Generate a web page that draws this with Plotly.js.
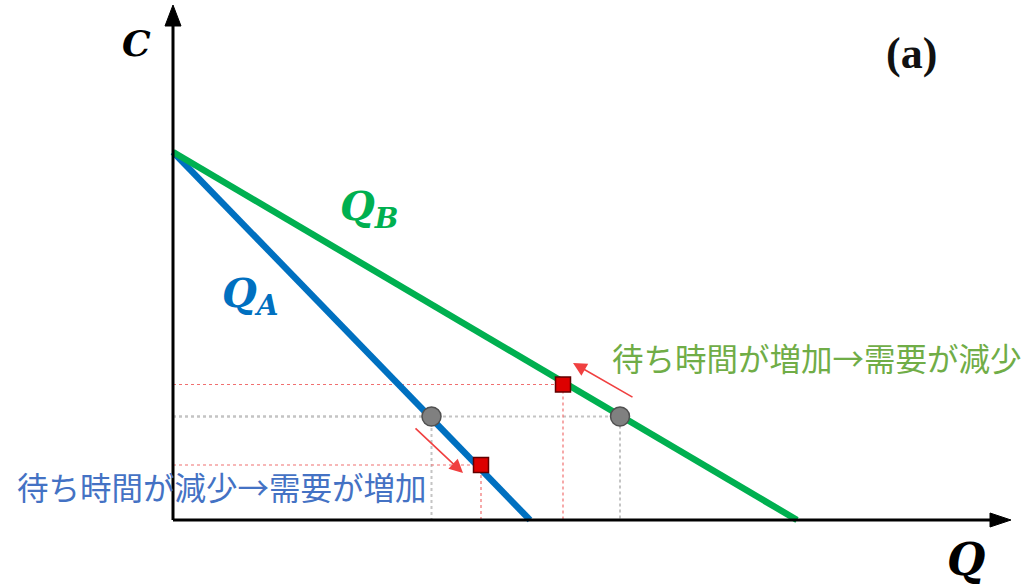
<!DOCTYPE html>
<html>
<head>
<meta charset="utf-8">
<script src="https://cdn.plot.ly/plotly-3.0.1.min.js"></script>
<style>html,body{margin:0;padding:0;background:#fff;}#chart{width:1024px;height:586px;}</style>
</head>
<body>
<div id="chart"></div>
<script>
// Demand lines (quantity Q vs cost C)
const QA_x = [0, 3.57];
const QA_y = [3.68, 0];
const QB_x = [0, 6.24];
const QB_y = [3.68, 0];
// Equilibrium points (gray circles): A then B
const eqX = [2.585, 4.47];
const eqY = [1.035, 1.035];
// Shifted points (red squares): A then B
const newX = [3.08, 3.90];
const newY = [0.55, 1.355];
// Red arrows: tail -> head, A then B
const arrTailX = [2.41, 4.61];
const arrTailY = [0.93, 1.22];
const arrHeadX = [2.90, 4.00];
const arrHeadY = [0.47, 1.57];
// Axis extents
const xMax = 8.38;
const yMax = 5.15;
// Texts
const labelA = '待ち時間が減少→需要が増加';
const labelB = '待ち時間が増加→需要が減少';

const traces = [];
function guide(xs, ys, color, width) {
  for (let i = 0; i < xs.length; i++) {
    traces.push({
      x: [0, xs[i], xs[i]], y: [ys[i], ys[i], 0],
      mode: 'lines', hoverinfo: 'skip', showlegend: false,
      line: {color: color, width: width, dash: 'dot'}
    });
  }
}
guide(eqX, eqY, '#c4c4c4', 2);
guide(newX, newY, '#f07070', 1.2);

traces.push({x: QA_x, y: QA_y, mode: 'lines', showlegend: false,
  line: {color: '#0070C0', width: 6.5}});
traces.push({x: QB_x, y: QB_y, mode: 'lines', showlegend: false,
  line: {color: '#00B050', width: 6.5}});
traces.push({x: eqX, y: eqY, mode: 'markers', showlegend: false,
  marker: {symbol: 'circle', size: 19, color: '#808080', line: {color: '#505050', width: 1.5}}});
traces.push({x: newX, y: newY, mode: 'markers', showlegend: false,
  marker: {symbol: 'square', size: 15, color: '#DD0000', line: {color: '#600000', width: 1.5}}});

const shapes = [
  {type: 'line', xref: 'x', yref: 'y', x0: 0, y0: 0, x1: xMax - 0.15, y1: 0, line: {color: '#000', width: 3}},
  {type: 'line', xref: 'x', yref: 'y', x0: 0, y0: 0, x1: 0, y1: yMax - 0.15, line: {color: '#000', width: 3}},
  {type: 'path', xref: 'x', yref: 'y', path: `M${xMax - 0.21},0.07 L${xMax},0 L${xMax - 0.21},-0.07 Z`, fillcolor: '#000', line: {color: '#000', width: 1}},
  {type: 'path', xref: 'x', yref: 'y', path: `M-0.08,${yMax - 0.21} L0,${yMax} L0.08,${yMax - 0.21} Z`, fillcolor: '#000', line: {color: '#000', width: 1}}
];

const serif = 'DejaVu Serif';
const annotations = [];
for (let i = 0; i < arrHeadX.length; i++) {
  annotations.push({x: arrHeadX[i], y: arrHeadY[i], ax: arrTailX[i], ay: arrTailY[i],
    xref: 'x', yref: 'y', axref: 'x', ayref: 'y', text: '', showarrow: true,
    arrowhead: 2, arrowsize: 1.7, arrowwidth: 1.6, arrowcolor: '#F04040'});
}
annotations.push(
  {x: -0.008, y: 0.930, xref: 'paper', yref: 'paper', xanchor: 'center', yanchor: 'middle',
   text: '<b><i>C</i></b>', showarrow: false,
   font: {family: serif, size: 36, color: '#000'}},
  {x: 0.948, y: -0.018, xref: 'paper', yref: 'paper', xanchor: 'center', yanchor: 'middle',
   text: '<b><i>Q</i></b>', showarrow: false,
   font: {family: serif, size: 44, color: '#000'}},
  {x: 7.38, y: 4.67, xref: 'x', yref: 'y', xanchor: 'center', yanchor: 'middle',
   text: '<b>(a)</b>', showarrow: false,
   font: {family: 'Liberation Serif', size: 44, color: '#111'}},
  {x: 1.65, y: 3.12, xref: 'x', yref: 'y', xanchor: 'left', yanchor: 'middle',
   text: '<b><i>Q</i><sub><i>B</i></sub></b>', showarrow: false,
   font: {family: serif, size: 40, color: '#00B050'}},
  {x: 0.47, y: 2.25, xref: 'x', yref: 'y', xanchor: 'left', yanchor: 'middle',
   text: '<b><i>Q</i><sub><i>A</i></sub></b>', showarrow: false,
   font: {family: serif, size: 40, color: '#0070C0'}},
  {x: -0.1475, y: 0.1174, xref: 'paper', yref: 'paper', xanchor: 'left', yanchor: 'middle',
   text: labelA, showarrow: false,
   font: {family: 'Noto Sans CJK JP', size: 31.5, color: '#4472C4'}},
  {x: 4.37, y: 1.63, xref: 'x', yref: 'y', xanchor: 'left', yanchor: 'middle',
   text: labelB, showarrow: false,
   font: {family: 'Noto Sans CJK JP', size: 31.5, color: '#70AD47'}}
);

const layout = {
  width: 1024, height: 586,
  margin: {l: 143, r: 13, t: 5, b: 36},
  paper_bgcolor: '#fff', plot_bgcolor: '#fff',
  showlegend: false,
  xaxis: {range: [-0.30, xMax], showgrid: false, zeroline: false, showticklabels: false, showline: false, ticks: '', fixedrange: true},
  yaxis: {range: [-0.30, yMax], showgrid: false, zeroline: false, showticklabels: false, showline: false, ticks: '', fixedrange: true},
  shapes: shapes,
  annotations: annotations
};
Plotly.newPlot('chart', traces, layout, {displayModeBar: false, staticPlot: true});
</script>
</body>
</html>
